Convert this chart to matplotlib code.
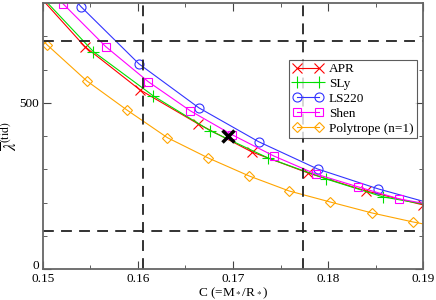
import matplotlib
matplotlib.use("Agg")
import matplotlib.pyplot as plt
import matplotlib.transforms as mtransforms
import numpy as np

plt.rcParams['font.family'] = ['Liberation Serif', 'DejaVu Serif']
plt.rcParams['mathtext.fontset'] = 'stix'

# values (line end points lie outside the markers)
apr_c = [0.1490, 0.1544, 0.1602, 0.1663, 0.1720, 0.1779, 0.1840, 0.1900]
apr_l = [840, 669, 539, 437, 352, 289, 235, 193]

sly_c = [0.1495, 0.1553, 0.1616, 0.1676, 0.1737, 0.1798, 0.1858, 0.1900]
sly_l = [830, 654, 521, 416, 334, 271, 217, 196]

ls220_c = [0.1500, 0.1540, 0.1601, 0.1664, 0.1727, 0.1789, 0.1853, 0.1900]
ls220_l = [920, 789, 617, 485, 383, 301, 241, 204]

shen_c = [0.1500, 0.1521, 0.1566, 0.1611, 0.1655, 0.1699, 0.1743, 0.1787, 0.1832, 0.1875, 0.1900]
shen_l = [870, 798, 669, 563, 476, 404, 340, 286, 247, 211, 198]

poly_c = [0.1500, 0.1504, 0.1546, 0.1588, 0.1631, 0.1674, 0.1717, 0.1759, 0.1802, 0.1846, 0.1889, 0.1900]
poly_l = [688, 675, 566, 479, 395, 334, 280, 235, 202, 169, 142, 136]

star_c, star_l = 0.1695, 400
vlines = [0.1605, 0.1774]
hlines = [114, 685]

fig = plt.figure(figsize=(4.36, 3.0), dpi=100)
ax = fig.add_axes([0.0986, 0.103, 0.8716, 0.887])

ax.plot(apr_c, apr_l, color='red', lw=0.8, marker='x', ms=6.5, mew=0.8,
        markevery=slice(1, None), label='APR')
ax.plot(sly_c, sly_l, color='#00e000', lw=0.8, marker='+', ms=8, mew=0.8,
        markevery=slice(1, -1), label='SLy')
ax.plot(ls220_c, ls220_l, color='#3333ff', lw=0.8, marker='o', ms=6.5, mfc='none',
        mew=0.8, markevery=slice(1, -1), label='LS220')
ax.plot(shen_c, shen_l, color='#ff00ff', lw=0.8, marker='s', ms=6, mfc='none',
        mew=0.8, markevery=slice(1, -1), label='Shen')
ax.plot(poly_c, poly_l, color='#ffa500', lw=0.8, marker='D', ms=5, mfc='none',
        mew=0.8, markevery=slice(1, -1), label='Polytrope (n=1)')

ax.plot(star_c, star_l, 'kx', ms=8, mew=2.5)

for v in vlines:
    ax.axvline(v, color='#222222', lw=1.3, ls=(0, (6, 4)))
for h in hlines:
    ax.axhline(h, color='#222222', lw=1.3, ls=(0, (6, 4)))

ax.set_xlim(0.15, 0.19)
ax.set_ylim(0, 800)
ax.set_xticks([0.15, 0.16, 0.17, 0.18, 0.19])
ax.set_xticks(np.arange(0.155, 0.19, 0.01), minor=True)
ax.set_yticks([0, 500])
ax.set_yticks([100, 200, 300, 400, 600, 700], minor=True)
ax.tick_params(which='both', direction='in', top=True, right=True,
               labelsize=9.5, color='#444444')
ax.tick_params(axis='x', pad=3)
ax.tick_params(axis='y', pad=3)
ax.tick_params(which='major', length=6)
ax.tick_params(which='minor', length=3)
for s in ax.spines.values():
    s.set_color('#666666')
    s.set_linewidth(1.3)

# lift the "0" label a little so it sits above "0.15"
fig.canvas.draw()
lab0 = ax.get_yticklabels()[0]
lab0.set_transform(lab0.get_transform() +
                   mtransforms.ScaledTranslation(0, 3 / 72, fig.dpi_scale_trans))

ax.set_xlabel(r'C (=M$_*$/R$_*$)', fontsize=9.5, labelpad=0)
ax.set_ylabel(r'$\overline{\lambda}^{(\mathrm{tid})}$', fontsize=12, labelpad=-1)

leg = ax.legend(loc='upper right', bbox_to_anchor=(0.984, 0.787), fontsize=9.5,
                numpoints=2, frameon=True, fancybox=False, borderpad=0.25,
                labelspacing=0.2, handlelength=2.3, handletextpad=0.45,
                borderaxespad=0)
leg.get_frame().set_edgecolor('#333333')
leg.get_frame().set_linewidth(0.8)

fig.savefig('out.png', dpi=100)
